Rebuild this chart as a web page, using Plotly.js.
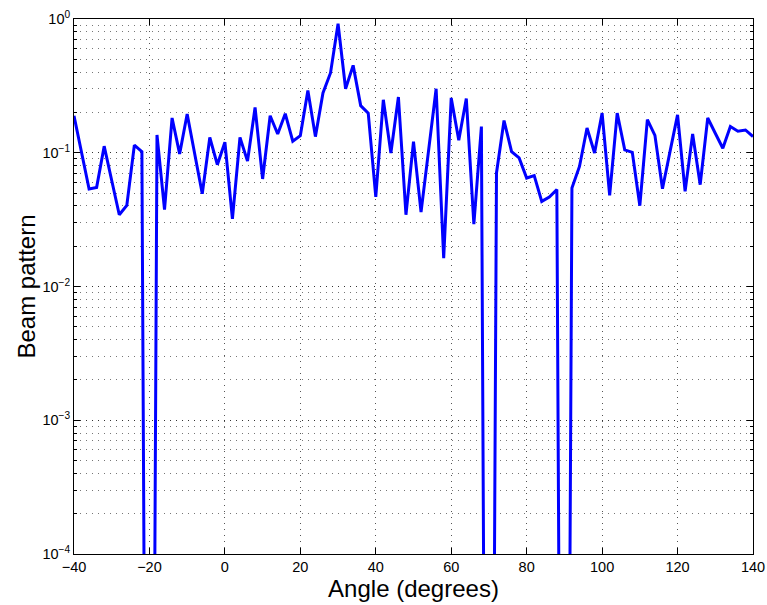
<!DOCTYPE html>
<html>
<head>
<meta charset="utf-8">
<script src="https://cdn.plot.ly/plotly-3.0.1.min.js"></script>
<style>html,body{margin:0;padding:0;background:#fff;}#chart{width:767px;height:605px;}</style>
</head>
<body>
<div id="chart"></div>
<script>
const angles = [-40,-38,-36,-34,-32,-30,-28,-26,-24,-22,-20,-18,-16,-14,-12,-10,-8,-6,-4,-2,
  0,2,4,6,8,10,12,14,16,18,20,22,24,26,28,30,32,34,36,38,
  40,42,44,46,48,50,52,54,56,58,60,62,64,66,68,70,72,74,76,78,
  80,82,84,86,88,90,92,94,96,98,100,102,104,106,108,110,112,114,116,118,
  120,122,124,126,128,130,132,134,136,138,140];
const beam = [0.189,0.101,0.0536,0.0551,0.112,0.062,0.0344,0.0404,0.114,0.102,1e-12,0.136,0.0375,0.182,0.098,0.195,0.098,0.0494,0.130,0.0814,
  0.120,0.032,0.130,0.0866,0.218,0.0637,0.189,0.138,0.196,0.122,0.134,0.292,0.132,0.280,0.395,0.922,0.301,0.45,0.225,0.198,
  0.0467,0.249,0.0995,0.261,0.0344,0.121,0.036,0.103,0.301,0.0163,0.257,0.124,0.254,0.0293,0.157,1e-12,0.0706,0.174,0.102,0.0914,
  0.0647,0.0674,0.0433,0.0467,0.053,1e-12,0.0545,0.079,0.153,0.0995,0.198,0.048,0.198,0.105,0.1007,0.0402,0.177,0.135,0.0538,0.102,
  0.192,0.0514,0.138,0.0577,0.182,0.14,0.108,0.157,0.145,0.148,0.132];
const xTicks = [-40,-20,0,20,40,60,80,100,120,140];
const yTickVals = [1e-4,1e-3,1e-2,1e-1,1];
const yTickText = ['10<sup>−4</sup>','10<sup>−3</sup>','10<sup>−2</sup>','10<sup>−1</sup>','10<sup>0</sup>'];

const font = 'Liberation Sans, Arial, Helvetica, sans-serif';
const trace = {
  x: angles, y: beam, type: 'scatter', mode: 'lines',
  line: {color: '#0000ff', width: 3}, hoverinfo: 'x+y'
};
const layout = {
  width: 767, height: 605,
  margin: {l: 74, r: 14, t: 19, b: 51},
  paper_bgcolor: '#fff', plot_bgcolor: '#fff',
  showlegend: false,
  font: {family: font, color: '#000', size: 14},
  xaxis: {
    range: [-40, 140], tickmode: 'array', tickvals: xTicks,
    ticks: 'inside', ticklen: 6, tickcolor: '#000', mirror: 'allticks',
    showline: true, linecolor: '#000', linewidth: 1,
    showgrid: true, gridcolor: '#555', griddash: '1px,5px', gridwidth: 1,
    zeroline: false,
    tickfont: {family: font, size: 14.5, color: '#000'},
    title: {text: 'Angle (degrees)', font: {family: font, size: 24, color: '#000'}, standoff: 2}
  },
  yaxis: {
    type: 'log', range: [-4, 0], tickmode: 'array', tickvals: yTickVals, ticktext: yTickText,
    ticks: 'inside', ticklen: 6, tickcolor: '#000', mirror: 'allticks',
    showline: true, linecolor: '#000', linewidth: 1,
    showgrid: true, gridcolor: '#333', griddash: '1px,5px', gridwidth: 1,
    zeroline: false,
    tickfont: {family: font, size: 14.5, color: '#000'},
    minor: {dtick: 'D1', ticks: 'inside', ticklen: 3, tickcolor: '#000',
            showgrid: true, gridcolor: '#777', griddash: '1px,5px', gridwidth: 1},
    title: {text: 'Beam pattern', font: {family: font, size: 24, color: '#000'}, standoff: 0}
  }
};
Plotly.newPlot('chart', [trace], layout, {displayModeBar: false, staticPlot: true});
</script>
</body>
</html>
